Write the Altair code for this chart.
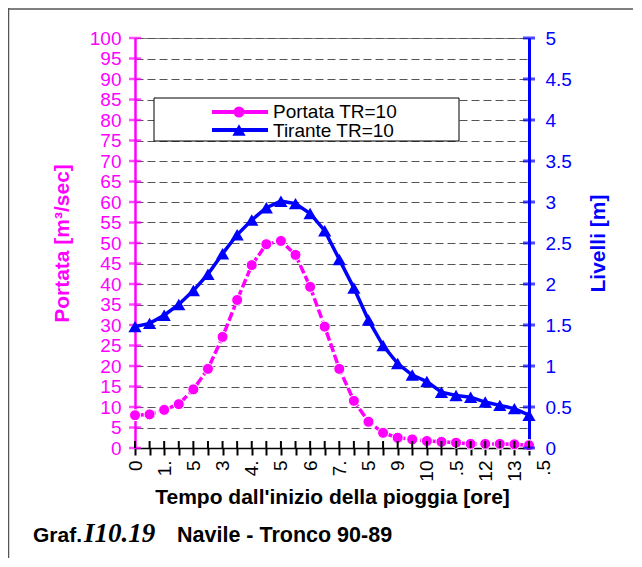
import json
import altair as alt
import pandas as pd

# ---------------- data ----------------
tempo = [0, 0.5, 1, 1.5, 2, 2.5, 3, 3.5, 4, 4.5, 5, 5.5, 6, 6.5,
         7, 7.5, 8, 8.5, 9, 9.5, 10, 10.5, 11, 11.5, 12, 12.5, 13, 13.5]
portata = [8.0, 8.2, 9.3, 10.7, 14.3, 19.3, 27.1, 36.1, 44.6, 49.7, 50.5, 47.1, 39.3, 29.6,
           19.3, 11.5, 6.4, 3.7, 2.5, 2.1, 1.7, 1.5, 1.3, 1.0, 1.0, 1.0, 0.9, 0.7]
tirante = [1.48, 1.52, 1.62, 1.75, 1.92, 2.12, 2.37, 2.60, 2.78, 2.93, 3.01, 2.98, 2.86, 2.65,
           2.30, 1.95, 1.56, 1.25, 1.03, 0.89, 0.81, 0.68, 0.64, 0.62, 0.56, 0.52, 0.48, 0.40]
x_label_pos = [0, 1, 2, 3, 4, 5, 6, 7, 8, 9, 10, 11, 12, 13, 14]
x_labels = ["0", "1.", "5", "3", "4.", "5", "6", "7.", "5", "9", "10", ".5", "12", "13", ".5"]
left_ticks = [0, 5, 10, 15, 20, 25, 30, 35, 40, 45, 50, 55, 60, 65, 70, 75, 80, 85, 90, 95, 100]
right_ticks = [0, 0.5, 1, 1.5, 2, 2.5, 3, 3.5, 4, 4.5, 5]
legend_names = ["Portata TR=10", "Tirante TR=10"]
MAGENTA = "#FF00FF"
BLUE = "#0000FF"
FONT = "Liberation Sans"

W, H = 394, 410

df = pd.DataFrame({"tempo": tempo, "portata": portata, "tirante": tirante})
df_lt = pd.DataFrame({"v": left_ticks})
df_rt = pd.DataFrame({"v": right_ticks})
df_xt = pd.DataFrame({"t": tempo})
df_last = pd.DataFrame({"pos": x_label_pos[-1:], "lab": x_labels[-1:]})
one = pd.DataFrame({"a": [0]})

lab_js = json.dumps(x_labels)
x_scale = alt.Scale(domain=[0, 13.5], nice=False, zero=False)
x_axis = alt.Axis(
    values=tempo,
    labelExpr=f"(datum.value % 1 == 0) ? {lab_js}[datum.value] : ''",
    labelAngle=270, labelAlign="right", labelBaseline="middle",
    labelFontSize=19, labelFont=FONT, labelColor="black", labelPadding=5,
    ticks=True, tickSize=7, tickColor="black", tickWidth=2, grid=False,
    domainColor="black", domainWidth=1.5, labelOverlap=False,
    title="Tempo dall'inizio della pioggia [ore]",
    titleFont=FONT, titleFontSize=21, titleFontWeight="bold", titleColor="black",
    titleX=W / 2, titleY=55, titleBaseline="alphabetic", titleAlign="center",
)
X = alt.X("tempo:Q", scale=x_scale, axis=x_axis)

left_scale = alt.Scale(domain=[0, 100], nice=False)
left_axis = alt.Axis(
    values=left_ticks, orient="left", format="d",
    labelFontSize=19, labelFont=FONT, labelColor=MAGENTA, labelPadding=14,
    ticks=False, tickSize=0,
    domainColor=MAGENTA, domainWidth=2.5,
    grid=True, gridColor="#555555", gridDash=[8, 4], gridWidth=1,
    title="Portata [m³/sec]",
    titleFont=FONT, titleFontSize=21, titleFontWeight="bold", titleColor=MAGENTA,
    titleAngle=270, titleX=-73, titleY=H / 2, titleBaseline="middle", titleAlign="center",
)
right_scale = alt.Scale(domain=[0, 5], nice=False)
right_axis = alt.Axis(
    values=right_ticks, orient="right", format="~g",
    labelFontSize=19, labelFont=FONT, labelColor=BLUE, labelPadding=16,
    ticks=False, tickSize=0,
    domainColor=BLUE, domainWidth=3, grid=False,
    title="Livelli [m]",
    titleFont=FONT, titleFontSize=21, titleFontWeight="bold", titleColor=BLUE,
    titleAngle=270, titleX=69, titleY=H / 2, titleBaseline="middle", titleAlign="center",
)

# ---------- left (Portata) ----------
base_l = alt.Chart(df).encode(x=X, y=alt.Y("portata:Q", scale=left_scale, axis=left_axis))
p_line = base_l.mark_line(color=MAGENTA, strokeWidth=3.5, strokeDash=[9, 3])
p_pts = base_l.mark_point(shape="circle", filled=True, size=121, fill=MAGENTA,
                          stroke="white", strokeWidth=1, opacity=1)
lt = alt.Chart(df_lt).mark_tick(orient="horizontal", color=MAGENTA, size=12, thickness=2.5).encode(
    y=alt.Y("v:Q", scale=left_scale, axis=left_axis), x=alt.value(0))
left = alt.layer(lt, p_line, p_pts)

# ---------- right (Tirante) ----------
base_r = alt.Chart(df).encode(x=X, y=alt.Y("tirante:Q", scale=right_scale, axis=right_axis))
t_line = base_r.mark_line(color=BLUE, strokeWidth=3.5)
t_pts = base_r.mark_point(shape="triangle-up", filled=True, size=175, color=BLUE, opacity=1)
rt = alt.Chart(df_rt).mark_tick(orient="horizontal", color=BLUE, size=12, thickness=3).encode(
    y=alt.Y("v:Q", scale=right_scale, axis=right_axis), x=alt.value(W))
right = alt.layer(rt, t_line, t_pts)

# ---------- inner half of the x-axis category ticks ----------
xt = alt.Chart(df_xt).mark_rule(color="black", strokeWidth=2).encode(
    x=alt.X("t:Q", scale=x_scale, axis=x_axis), y=alt.value(H - 7), y2=alt.value(H))

# ---------- extra x label past the last category ----------
last_lab = alt.Chart(df_last).mark_text(
    angle=270, align="right", baseline="middle", font=FONT, fontSize=19, color="black"
).encode(x=alt.X("pos:Q", scale=x_scale, axis=x_axis), y=alt.value(H + 12), text="lab:N")

# ---------- legend ----------
leg_box = alt.Chart(one).mark_rect(fill="white", stroke="black", strokeWidth=1).encode(
    x=alt.value(19), x2=alt.value(324), y=alt.value(60), y2=alt.value(103))
leg_layers = [leg_box]
for name, col, shp, sz, ly, ty in [
    (legend_names[0], MAGENTA, "circle", 121, 74, 80),
    (legend_names[1], BLUE, "triangle-up", 175, 92, 99),
]:
    leg_layers.append(alt.Chart(one).mark_rule(color=col, strokeWidth=4).encode(
        x=alt.value(77), x2=alt.value(133), y=alt.value(ly)))
    leg_layers.append(alt.Chart(one).mark_point(shape=shp, filled=True, size=sz, color=col, opacity=1).encode(
        x=alt.value(104), y=alt.value(ly)))
    leg_layers.append(alt.Chart(one).mark_text(align="left", baseline="alphabetic", font=FONT,
                                               fontSize=19, color="black").encode(
        x=alt.value(138), y=alt.value(ty), text=alt.value(name)))

# ---------- caption & frame ----------
cap1 = alt.Chart(one).mark_text(align="left", baseline="alphabetic", font=FONT, fontSize=21,
                                fontWeight="bold", color="black").encode(
    x=alt.value(-102), y=alt.value(504), text=alt.value("Graf."))
cap2 = alt.Chart(one).mark_text(align="left", baseline="alphabetic", font="Liberation Serif",
                                fontSize=27, fontWeight="bold", fontStyle="italic", color="black").encode(
    x=alt.value(-51), y=alt.value(504), text=alt.value("I10.19"))
cap3 = alt.Chart(one).mark_text(align="left", baseline="alphabetic", font=FONT, fontSize=21.5,
                                fontWeight="bold", color="black").encode(
    x=alt.value(42), y=alt.value(504), text=alt.value("Navile - Tronco 90-89"))
frame_top = alt.Chart(one).mark_rule(color="#555555", strokeWidth=1.5).encode(
    x=alt.value(-127), x2=alt.value(520), y=alt.value(-29))
frame_left = alt.Chart(one).mark_rule(color="#555555", strokeWidth=1.5).encode(
    x=alt.value(-126.5), y=alt.value(-30), y2=alt.value(540))

chart = alt.layer(
    left, right, xt, last_lab, *leg_layers, cap1, cap2, cap3, frame_top, frame_left
).resolve_scale(y="independent").properties(
    width=W, height=H,
    autosize=alt.AutoSizeParams(type="none"),
    padding={"left": 127, "top": 30, "right": 104, "bottom": 110},
    background="white",
).configure_view(stroke="#808080", strokeWidth=1)

chart.save("out.html", embed_options={"renderer": "svg", "actions": False})
